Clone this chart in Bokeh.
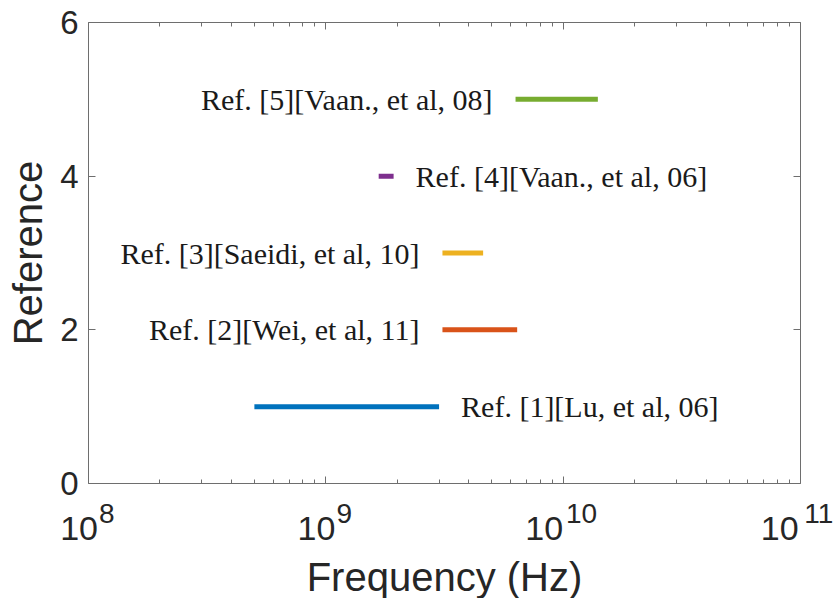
from bokeh.plotting import figure
from bokeh.models import ColumnDataSource, FixedTicker, LogAxis, LinearAxis, Range1d
from bokeh.embed import file_html
from bokeh.resources import INLINE
from bokeh.core.properties import value

# ---- data ----
refs = [1, 2, 3, 4, 5]
f_start = [5.0e8, 3.1e9, 3.1e9, 1.67e9, 6.3e9]
f_end = [3.0e9, 6.4e9, 4.6e9, 1.93e9, 1.4e10]
labels = [
    "Ref. [1][Lu, et al, 06]",
    "Ref. [2][Wei, et al, 11]",
    "Ref. [3][Saeidi, et al, 10]",
    "Ref. [4][Vaan., et al, 06]",
    "Ref. [5][Vaan., et al, 08]",
]
colors = ["#0072BD", "#D95319", "#EDB120", "#7E2F8E", "#77AC30"]
label_side = ["right", "left", "left", "right", "left"]  # where the label sits relative to the line

x_ticks = [1e8, 1e9, 1e10, 1e11]
x_tick_base = ["10", "10", "10", "10"]
x_tick_exp = ["8", "9", "10", "11"]
x_minor = [m * t for t in x_ticks[:-1] for m in range(2, 10)]
y_ticks = [0, 2, 4, 6]

# ---- derived table ----
anchor_x = [e if s == "right" else b for b, e, s in zip(f_start, f_end, label_side)]
align = ["left" if s == "right" else "right" for s in label_side]
offs = [22 if s == "right" else -23 for s in label_side]
src = ColumnDataSource(dict(x0=f_start, x1=f_end, y=refs, color=colors,
                            ax=anchor_x, lab=labels, align=align, off=offs))

p = figure(x_axis_type="log", x_range=Range1d(1e8, 1e11), y_range=Range1d(0, 6),
           frame_width=712, frame_height=461, output_backend="svg",
           toolbar_location=None, min_border_left=88, min_border_right=36,
           min_border_top=22, min_border_bottom=115)
p.outline_line_color = None
p.grid.visible = False
p.background_fill_color = "white"
p.border_fill_color = "white"

p.segment(x0="x0", y0="y", x1="x1", y1="y", source=src, line_color="color",
          line_width=5, line_cap="butt")
p.text(x="ax", y="y", text="lab", source=src, text_align="align",
       text_baseline="middle", x_offset="off", text_font=value("Liberation Serif"),
       text_font_size="30px", text_color="#1a1a1a")

axcol = "#262626"
frame_col = "#6e6e6e"

def style(ax, show_labels):
    ax.axis_line_color = frame_col
    ax.axis_line_width = 1
    ax.major_tick_line_color = frame_col
    ax.minor_tick_line_color = frame_col
    ax.major_tick_in = 7
    ax.major_tick_out = 0
    ax.minor_tick_in = 4
    ax.minor_tick_out = 0
    ax.major_label_text_font = "Liberation Sans"
    ax.major_label_text_color = axcol
    ax.axis_label_text_font = "Liberation Sans"
    ax.axis_label_text_font_style = "normal"
    ax.axis_label_text_color = axcol
    ax.axis_label_text_font_size = "40px"
    if show_labels:
        ax.major_label_text_font_size = "33px"
    else:
        ax.major_label_text_font_size = "1px"
        ax.major_label_text_color = None
        ax.major_label_standoff = 0

xt = FixedTicker(ticks=x_ticks, minor_ticks=x_minor)
xt_exp = FixedTicker(ticks=x_ticks, minor_ticks=[])
yt = FixedTicker(ticks=y_ticks, minor_ticks=[])

FS = "\u2007"   # figure space (digit-wide), used to place base and exponent side by side
TS = "\u2009"   # thin space

# bottom axis: tick marks and the "10" base of each label (padded so base+exponent is centred)
xa = p.xaxis[0]
xa.ticker = xt
style(xa, True)
xa.major_label_text_font_size = "34px"
xa.major_label_overrides = {t: b + FS * len(e) for t, b, e in zip(x_ticks, x_tick_base, x_tick_exp)}
xa.major_label_standoff = 25

# second bottom axis: the raised exponents and the axis title
xe = LogAxis(ticker=xt_exp)
style(xe, True)
xe.axis_line_color = None
xe.major_tick_line_color = None
xe.minor_tick_line_color = None
xe.major_tick_in = 0
xe.minor_tick_in = 0
xe.major_label_text_font_size = "28px"
xe.major_label_overrides = {t: FS + FS + TS + e for t, e in zip(x_ticks, x_tick_exp)}
xe.major_label_standoff = -52
xe.axis_label = "Frequency (Hz)"
xe.axis_label_standoff = 23
p.add_layout(xe, "below")

ya = p.yaxis[0]
ya.ticker = yt
ya.axis_label = "Reference"
style(ya, True)
ya.major_label_standoff = 10
ya.axis_label_standoff = 7

top = LogAxis(ticker=xt)
style(top, False)
p.add_layout(top, "above")
right = LinearAxis(ticker=yt)
style(right, False)
p.add_layout(right, "right")

open("out.html", "w").write(file_html(p, INLINE))
